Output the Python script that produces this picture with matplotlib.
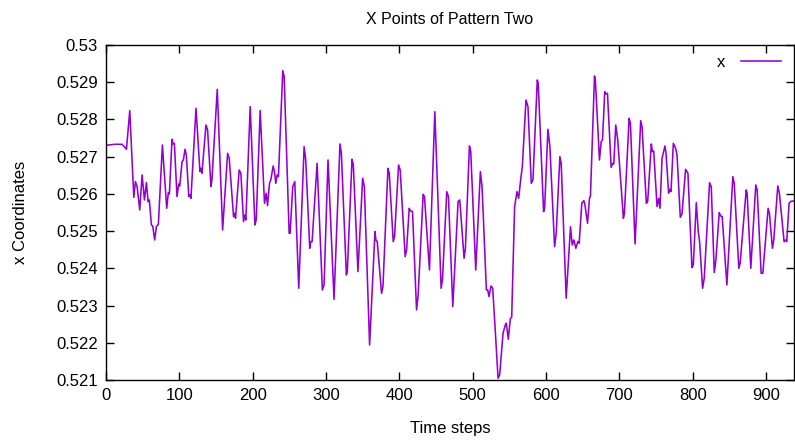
import matplotlib
matplotlib.use("Agg")
import matplotlib.pyplot as plt
from matplotlib.ticker import FixedLocator

plt.rcParams['font.family'] = ['Liberation Sans', 'DejaVu Sans']

# ---- data ----
time_steps = [
    0, 12, 22, 27.9, 32.4, 37.9, 40.1, 42.4, 46.0, 49.2, 52.4, 55.1, 57.4, 59.1, 61.9, 63.7, 66.4, 68.7, 71.4,
    76.9, 82.8, 85.0, 86.4, 90.0, 91.4, 93.2, 96.8, 99.1, 100.5, 103.7, 105.5, 107.7, 109.5, 112.9, 114.5, 115.8,
    122.7, 128.1, 129.5, 130.8, 136.3, 138.5, 143.1, 144.4, 151.7, 159.0, 165.8, 168.0, 173.9, 175.3, 176.6,
    181.6, 183.9, 187.5, 189.3, 190.7, 196.6, 203.0, 204.8, 210.2, 216.1, 218.4, 220.2, 222.9, 224.7, 227.9,
    229.7, 231.5, 233.3, 235.1,
    241.0, 242.9, 249.7, 251.0, 254.6, 257.4, 262.8, 270.1, 272.3, 277.8, 279.1, 281.0, 287.8, 295.0, 297.3,
    302.7, 310.9, 319.0, 320.9, 327.7, 329.0, 335.4, 337.2, 343.5,
    349.9, 352.2, 359.4, 366.7, 368.0, 369.8, 375.7, 377.6, 384.4, 386.2, 391.6, 393.4, 398.9, 401.1, 407.9,
    409.8, 413.4, 415.2, 417.9, 423.4, 425.6, 432.4, 434.2, 441.0, 448.3, 456.9, 458.7, 464.6, 466.9,
    472.8, 480.0, 482.3, 488.2, 490.0, 495.5, 497.3, 504.1, 510.4, 512.7, 518.6, 520.4, 522.2, 524.9, 527.2,
    530.4, 534.5, 536.7, 541.3, 544.4, 545.8, 548.5, 551.3, 553.1, 557.1, 560.3, 562.6, 565.3, 567.6, 572.6,
    575.3,
    579.8, 582.1, 588.0, 589.3, 596.6, 598.0, 602.5, 605.2, 611.6, 613.8, 618.8, 620.6, 627.4, 633.3, 635.6,
    637.9, 640.6, 643.3, 645.1, 648.7, 651.5, 652.8, 656.5, 659.2, 660.5, 666.0, 667.3, 672.8, 675.1, 676.9,
    680.0, 681.4, 683.7, 688.7,
    690.9, 692.3, 695.0, 697.7, 705.4, 706.8, 713.2, 715.0, 721.3, 729.0, 730.8, 736.7, 738.5, 743.5, 744.9,
    746.7, 751.3, 753.5, 755.3, 758.1, 762.1, 763.5, 767.1, 768.9, 770.3, 773.5, 776.6, 778.5, 783.0, 785.3,
    790.2, 793.4, 798.9, 800.7, 804.8, 807.5, 809.3,
    813.4, 815.6, 822.9, 825.2, 829.3, 831.5, 836.1, 837.9, 840.1, 846.5, 854.6, 856.5, 862.8, 864.6, 872.8,
    874.1, 879.1, 885.9, 887.8, 893.2, 895.5, 902.7, 904.5, 908.6, 910.4, 915.9, 918.1, 924.5, 926.8, 928.1,
    931.3, 934.0, 938.1,
]
x_coords = [
    0.527305, 0.527332, 0.527332, 0.527198, 0.528236, 0.525908, 0.526329, 0.526195, 0.525568, 0.526508,
    0.525837, 0.526302, 0.525792, 0.525837, 0.525165, 0.525138, 0.524762, 0.525120, 0.525183,
    0.527314, 0.525613, 0.526034, 0.525998, 0.527466, 0.527341, 0.527359, 0.525926, 0.526266, 0.526213,
    0.526866, 0.526911, 0.527198, 0.527045, 0.525926, 0.525971, 0.525881,
    0.528299, 0.526598, 0.526687, 0.526553, 0.527851, 0.527717, 0.526195, 0.526374, 0.528809, 0.525031,
    0.527090, 0.526956, 0.525389, 0.525478, 0.525344,
    0.526642, 0.526553, 0.525255, 0.525434, 0.525299, 0.528343, 0.525165, 0.525299, 0.528236, 0.525747,
    0.526016, 0.525684, 0.526284, 0.526374, 0.526750,
    0.526598, 0.526284, 0.526508, 0.526463,
    0.529310, 0.529149, 0.524941, 0.524941, 0.526195, 0.526329, 0.523464, 0.527269, 0.526911, 0.524538,
    0.524717, 0.524717, 0.526821, 0.523419, 0.523554,
    0.526911, 0.523169, 0.527341, 0.527090, 0.523822, 0.523912, 0.526929, 0.526777, 0.523912,
    0.526419, 0.526195, 0.521942, 0.524986, 0.524762, 0.524717, 0.523330, 0.523509, 0.526687, 0.526553,
    0.524717, 0.524852, 0.526777, 0.526642, 0.524315,
    0.524494, 0.525613, 0.525541, 0.525523, 0.522882, 0.523285, 0.525989, 0.525926, 0.523956, 0.528209,
    0.523464, 0.523688, 0.526060, 0.525926,
    0.522972, 0.525792, 0.525837, 0.524270, 0.524538, 0.527287, 0.527135, 0.523956, 0.526598, 0.526195,
    0.523419, 0.523419, 0.523240, 0.523527, 0.523464,
    0.522435, 0.521047, 0.521136, 0.522255, 0.522479, 0.522524, 0.522094, 0.522658, 0.522685, 0.525657,
    0.526060, 0.525881, 0.526374, 0.526732, 0.528522,
    0.528343,
    0.526284, 0.526374, 0.529060, 0.528970, 0.525523, 0.525613, 0.527735, 0.527269, 0.524583, 0.524941,
    0.527000, 0.526821, 0.523196, 0.525120, 0.524628,
    0.524762, 0.524538, 0.524717, 0.524673, 0.525747, 0.525819, 0.525729, 0.525210, 0.525881, 0.525944,
    0.529167, 0.529015, 0.526911, 0.527403, 0.527448,
    0.528746, 0.528684, 0.528702, 0.526714,
    0.526821, 0.526803, 0.527851, 0.527448, 0.525344, 0.525478, 0.528030, 0.527896, 0.524655, 0.527967,
    0.527806, 0.525747, 0.525792, 0.527341, 0.527135,
    0.527153, 0.525657, 0.525881, 0.525613, 0.526956, 0.527287, 0.527090, 0.526016, 0.526123, 0.526060,
    0.527359, 0.527224, 0.527045, 0.525371, 0.525461,
    0.526660, 0.526553, 0.524019, 0.524091, 0.525765, 0.524986, 0.524717,
    0.523464, 0.523733, 0.526302, 0.526195, 0.523885, 0.524225, 0.525496, 0.525407, 0.525389, 0.523554,
    0.526463, 0.526284, 0.524001, 0.524135, 0.526105,
    0.526016, 0.524001, 0.526240, 0.526105, 0.523867, 0.523867, 0.525613, 0.525478, 0.524538, 0.524762,
    0.526213, 0.526016, 0.524717, 0.524762, 0.524717,
    0.525747, 0.525801, 0.525810,
]
x_ticks = [0, 100, 200, 300, 400, 500, 600, 700, 800, 900]
y_ticks = [0.521, 0.522, 0.523, 0.524, 0.525, 0.526, 0.527, 0.528, 0.529, 0.530]
y_tick_labels = ["0.521", "0.522", "0.523", "0.524", "0.525", "0.526", "0.527", "0.528", "0.529", "0.53"]

W, H = 795, 441
fig = plt.figure(figsize=(W / 100, H / 100), dpi=100)
ax = fig.add_axes([106 / W, 61 / H, 688 / W, 335 / H])

ax.plot(time_steps, x_coords, color="#9400D3", linewidth=1.15, label="x")

ax.set_xlim(0, 938)
ax.set_ylim(0.521, 0.530)
ax.xaxis.set_major_locator(FixedLocator(x_ticks))
ax.set_xticklabels([str(t) for t in x_ticks])
ax.yaxis.set_major_locator(FixedLocator(y_ticks))
ax.set_yticklabels(y_tick_labels)
ax.tick_params(direction="in", top=True, right=True, length=6, width=1,
               labelsize=12, pad=6, colors="black")
for s in ax.spines.values():
    s.set_linewidth(1.0)
    s.set_color("black")

ax.set_title("X Points of Pattern Two", fontsize=11.5, pad=15)
ax.set_xlabel("Time steps", fontsize=12, labelpad=13)
ax.set_ylabel("x Coordinates", fontsize=12, labelpad=20)

ax.legend(loc="upper right", frameon=False, markerfirst=False, fontsize=12,
          handlelength=2.4, handletextpad=0.9, borderaxespad=0.2,
          bbox_to_anchor=(0.995, 1.0))

fig.savefig("out.png", dpi=100)
